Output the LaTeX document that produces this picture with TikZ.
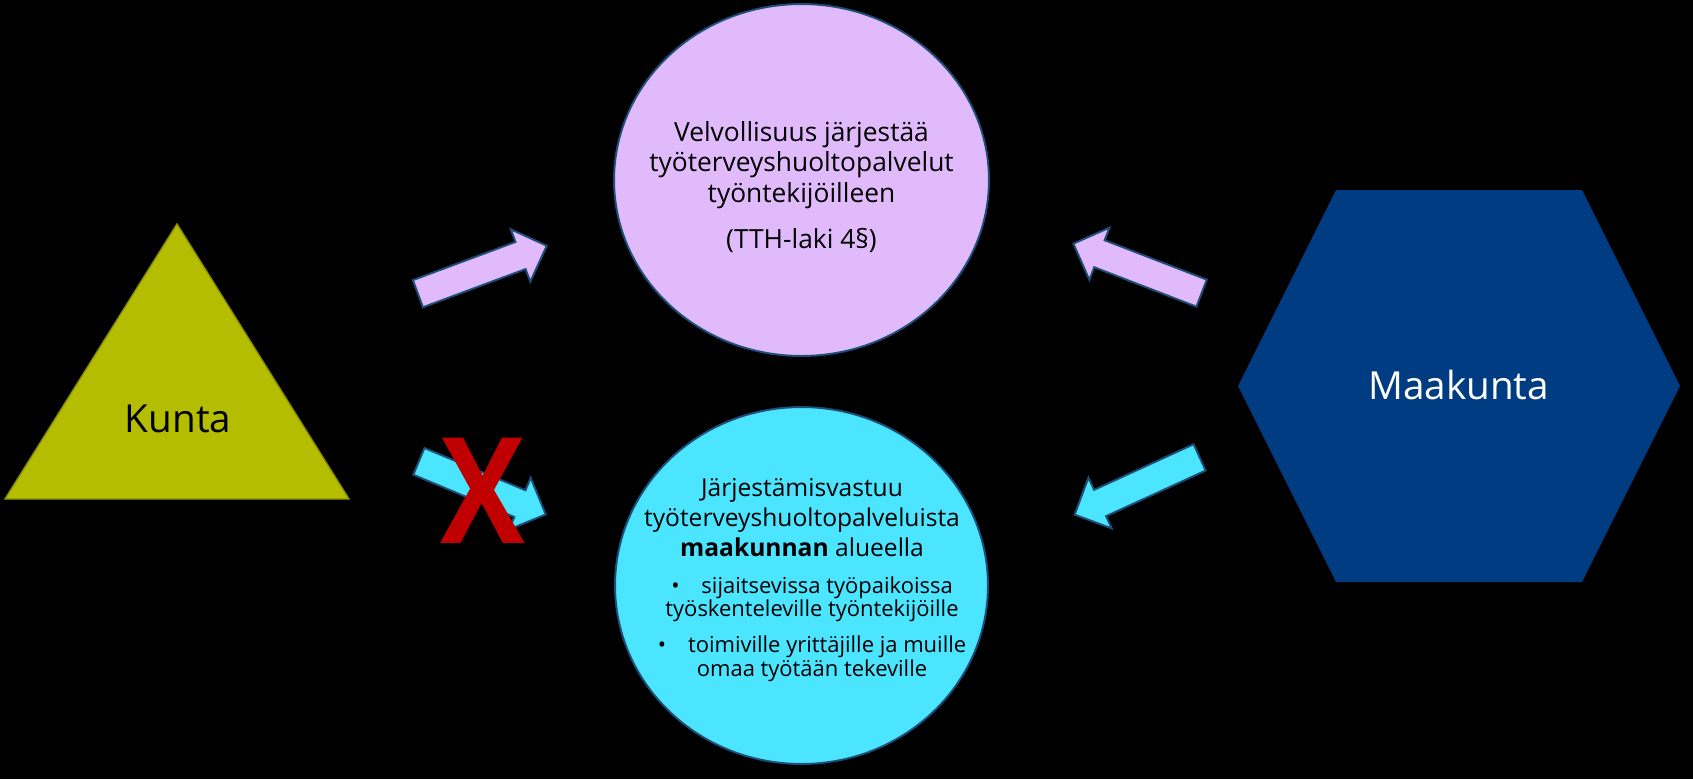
\documentclass[tikz,border=0pt]{standalone}
\usepackage{fontspec}
\setmainfont{Open Sans}
\definecolor{DutyLilac}{HTML}{E1BAFB}
\definecolor{RespCyan}{HTML}{4BE5FF}
\definecolor{KuntaOlive}{HTML}{B4BD00}
\definecolor{KuntaEdge}{HTML}{8C9300}
\definecolor{MaakuntaBlue}{HTML}{003C82}
\definecolor{EdgeBlue}{HTML}{1F4E79}
\definecolor{CrossRed}{HTML}{C00000}
\usetikzlibrary{shapes.geometric, shapes.arrows}
\tikzset{
  circ/.style={ellipse, draw=EdgeBlue, line width=1.1pt, inner sep=0pt},
  blockarrow/.style={single arrow, draw=EdgeBlue, line width=1.1pt, inner xsep=0pt, inner ysep=0.27cm, minimum height=2.75cm, single arrow head extend=0.27cm, anchor=tail}
}

\begin{document}
\begin{tikzpicture}[x=0.02cm, y=-0.02cm,
  bodytext/.style={align=center, inner sep=0pt, font=\fontsize{15}{17.3}\selectfont},
  bigtext/.style={inner sep=0pt, anchor=base, font=\fontsize{22}{26}\selectfont}
]
\fill[black] (0,0) rectangle (1693,779);
% the four shapes
\node[circ, fill=DutyLilac, minimum width=7.5cm, minimum height=7.04cm] (duty) at (801.5,180) {};
\node[circ, fill=RespCyan, minimum width=7.46cm, minimum height=7.14cm] (resp) at (801.5,585.5) {};
\filldraw[fill=KuntaOlive, draw=KuntaEdge, line width=0.8pt] (177,224) -- (349,499) -- (5,499) -- cycle;
\fill[MaakuntaBlue] (1336,190) -- (1582,190) -- (1680,386) -- (1582,582) -- (1336,582) -- (1238,386) -- cycle;
% texts
\node[bodytext, anchor=north] (dutytext) at (801.5,121) {Velvollisuus järjestää\\työterveyshuoltopalvelut\\työntekijöilleen\\[0.31cm](TTH-laki 4§)};
\node[bodytext, font=\fontsize{14}{17}\selectfont, anchor=north] (resptext) at (802,478) {Järjestämisvastuu\\työterveyshuoltopalveluista\\\textbf{maakunnan} alueella};
\node[bodytext, font=\fontsize{12.5}{13.6}\selectfont, anchor=north] (resplist) at (812,576) {\textbullet\quad sijaitsevissa työpaikoissa\\työskenteleville työntekijöille\\[0.24cm]\textbullet\quad toimiville yrittäjille ja muille\\omaa työtään tekeville};
\node[bigtext] (kunta) at (178,432) {Kunta};
\node[bigtext, text=white] (maakunta) at (1458.5,399) {Maakunta};
% block arrows
\node[blockarrow, fill=DutyLilac, rotate=20.4] (kuntaduty) at (417,294) {};
\node[blockarrow, fill=RespCyan, rotate=-22.7] (kuntaresp) at (418,461) {};
\node[blockarrow, fill=DutyLilac, rotate=158.9] (maakuntaduty) at (1202.5,293.5) {};
\node[blockarrow, fill=RespCyan, rotate=-155.4] (maakuntaresp) at (1200.5,457) {};
\node[text=CrossRed, inner sep=0pt, xscale=0.86, font=\fontsize{84}{84}\selectfont\bfseries] (nocross) at (482.5,491) {X};
\end{tikzpicture}
\end{document}
